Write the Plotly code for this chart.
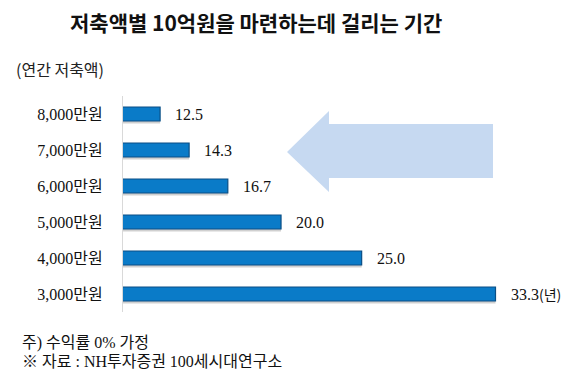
import plotly.graph_objects as go

categories = ["8,000만원", "7,000만원", "6,000만원", "5,000만원", "4,000만원", "3,000만원"]
years = [12.5, 14.3, 16.7, 20.0, 25.0, 33.3]
value_labels = ["12.5", "14.3", "16.7", "20.0", "25.0", "33.3"]
unit_label = "(년)"

title_text = "저축액별 10억원을 마련하는데 걸리는 기간"
yaxis_note = "(연간 저축액)"
footnote1 = "주) 수익률 0% 가정"
footnote2 = "※ 자료 : NH투자증권 100세시대연구소"

SERIF = "Liberation Serif, Noto Sans CJK KR"
SANS = "Noto Sans CJK KR, Noto Sans"

W, H = 583, 382
L, R, T, B = 123, 23, 96, 70
pw = W - L - R
ph = H - T - B

def px(x):
    return (x - L) / pw

def py(y):
    return (H - B - y) / ph

fig = go.Figure()

# shadow
fig.add_trace(go.Bar(
    y=categories, x=years, orientation="h",
    width=0.39, offset=-0.195 + 0.07,
    marker=dict(color="rgba(120,120,120,0.35)", line=dict(width=0)),
    hoverinfo="skip", showlegend=False,
))
fig.add_trace(go.Bar(
    y=categories, x=years, orientation="h",
    width=0.39, offset=-0.195,
    marker=dict(color="#0a7bc8", line=dict(color="#0a4f86", width=1.2)),
    showlegend=False,
))

annotations = []
for c, v, lab in zip(categories, years, value_labels):
    txt = lab
    if c == categories[-1]:
        txt = lab + "<span style='font-family:Noto Sans CJK KR;font-size:14px'>" + unit_label + "</span>"
    annotations.append(dict(
        x=v, y=c, xref="x", yref="y", text=txt, showarrow=False,
        xanchor="left", yanchor="middle", xshift=13,
        font=dict(family=SERIF, size=16, color="#111111"),
    ))

annotations.append(dict(
    x=px(256), y=py(22), xref="paper", yref="paper", text="<b>" + title_text + "</b>",
    showarrow=False, xanchor="center", yanchor="middle",
    font=dict(family=SANS, size=21, color="#111111"),
))
annotations.append(dict(
    x=px(14), y=py(69), xref="paper", yref="paper", text=yaxis_note,
    showarrow=False, xanchor="left", yanchor="middle",
    font=dict(family=SANS, size=16, color="#222222"),
))
annotations.append(dict(
    x=px(20), y=py(343), xref="paper", yref="paper", text=footnote1,
    showarrow=False, xanchor="left", yanchor="middle",
    font=dict(family=SERIF, size=16, color="#111111"),
))
annotations.append(dict(
    x=px(20), y=py(361), xref="paper", yref="paper", text=footnote2,
    showarrow=False, xanchor="left", yanchor="middle",
    font=dict(family=SERIF, size=16, color="#111111"),
))

pts = [(287, 152), (329, 111), (329, 124), (493, 124), (493, 178), (329, 178), (329, 192)]
path = "M " + " L ".join(f"{px(a):.4f},{py(b):.4f}" for a, b in pts) + " Z"

fig.update_layout(
    width=W, height=H,
    margin=dict(l=L, r=R, t=T, b=B, pad=0),
    paper_bgcolor="white", plot_bgcolor="white",
    barmode="overlay",
    showlegend=False,
    xaxis=dict(range=[10.2, 37.3], visible=False, fixedrange=True),
    yaxis=dict(
        autorange="reversed", showgrid=False, zeroline=False,
        showline=True, linecolor="#d9d9d9", linewidth=1,
        ticks="outside", ticklen=16, tickcolor="rgba(0,0,0,0)",
        tickfont=dict(family=SERIF, size=16, color="#111111"),
        fixedrange=True,
    ),
    shapes=[dict(type="path", path=path, xref="paper", yref="paper",
                 fillcolor="#c6d9f1", line=dict(width=0), layer="below")],
    annotations=annotations,
)

fig.write_html("out.html", config={"displayModeBar": False},
               post_script="document.body.style.margin='0';document.body.style.padding='0';")
